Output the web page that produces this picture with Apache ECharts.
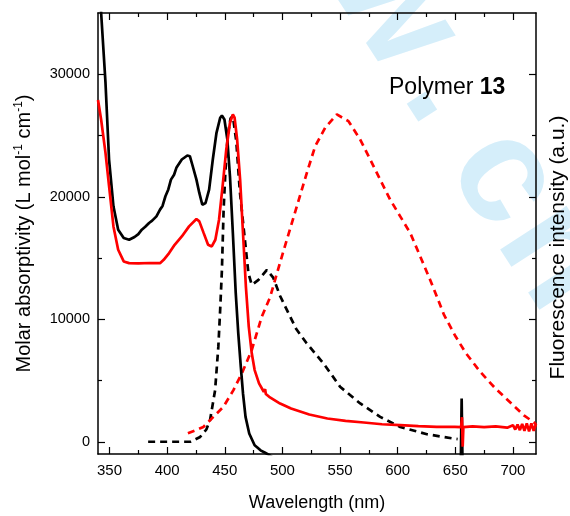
<!DOCTYPE html>
<html>
<head>
<meta charset="utf-8">
<script src="https://cdn.jsdelivr.net/npm/echarts@6/dist/echarts.min.js"></script>
<style>html,body{margin:0;padding:0;background:#fff}#c{width:570px;height:516px}</style>
</head>
<body>
<div id="c"></div>
<script>
// ---------- data ----------
const xMajorTicks = [350, 400, 450, 500, 550, 600, 650, 700];
const xMinorTicks = [375, 425, 475, 525, 575, 625, 675];
const yMajorTicks = [0, 10000, 20000, 30000];
const yMinorTicks = [5000, 15000, 25000];

// absorption, polymer (black, solid)
const wlAbsBlack = [340, 342.7, 346.5, 349.6, 353.4, 357.5, 362.3, 367, 371.7, 375, 378, 381, 384.3, 387, 390.7, 393.8, 396, 398.5, 401, 403.3, 406, 408, 412.7, 417.5, 419.7, 422.2, 425.4, 427.9, 430.5, 433.3, 436.4, 439.6, 442.8, 446, 447.5, 449.7, 452.2, 454.5, 457, 459.5, 461.7, 463.9, 465.8, 468, 471.2, 475.9, 478, 481, 485, 488, 495, 654.8, 655.5, 656.2, 657, 720];
const absBlack = [39100, 35040, 29310, 23040, 19220, 17310, 16630, 16490, 16710, 16950, 17310, 17550, 17860, 18050, 18400, 18950, 19250, 20040, 20600, 21400, 21800, 22360, 23040, 23370, 23310, 22490, 21400, 20310, 19350, 19490, 20580, 23040, 25220, 26450, 26630, 26310, 24680, 21670, 17040, 12130, 8850, 6120, 3940, 2030, 670, -290, -450, -700, -900, -1050, -1500, -1500, 3530, -1500, -1500, -1500];

// absorption, second sample (red, solid)
const wlAbsRed = [340, 342.7, 346.5, 349.6, 353.4, 357.5, 362.3, 367, 375, 385, 393.8, 397, 401.7, 406.5, 412.7, 419, 425.4, 427.9, 431.7, 435.5, 438.7, 441.8, 445, 448.1, 451.3, 454.5, 457, 458.5, 460.7, 463.3, 465.8, 468.3, 470.8, 473.4, 475.9, 479.7, 483.8, 485, 485.6, 488.5, 498, 507.5, 523.3, 539, 554.8, 570.6, 586.4, 602.2, 618, 633.8, 649.6, 655, 655.8, 656.4, 657, 665, 675, 685, 695, 700, 702, 704, 706, 708, 710, 712, 714, 716, 718, 720];
const absRed = [27900, 26310, 23580, 20860, 17580, 15670, 14720, 14580, 14560, 14590, 14580, 14850, 15400, 16080, 16760, 17580, 18180, 17990, 17030, 16080, 15940, 16490, 18130, 20860, 23860, 26040, 26720, 26450, 24680, 21400, 17040, 12670, 9400, 7220, 5850, 4760, 4080, 4300, 3900, 3670, 3120, 2710, 2220, 1900, 1700, 1570, 1430, 1350, 1270, 1210, 1210, 1200, 2000, -400, 1200, 1250, 1200, 1250, 1150, 1350, 1000, 1400, 950, 1450, 900, 1500, 850, 1500, 900, 1450];

// fluorescence, polymer (black, dashed)
const wlFlBlack = [383.5, 400, 420, 428.6, 434, 437.2, 441.6, 444.4, 446, 447.5, 449, 450.5, 452.5, 455, 457, 460, 463, 466.2, 470.5, 473.4, 479.2, 486.5, 492, 498, 506.7, 512, 521, 535.4, 542.9, 550, 567.5, 584.8, 602.2, 625.4, 648.5, 652];
const flBlack = [0, 0, 0, 390, 1000, 1760, 4210, 7760, 10800, 14000, 19000, 22000, 25000, 26400, 26600, 24500, 20500, 17580, 13760, 12800, 13210, 14030, 13400, 11900, 10210, 9200, 8040, 6420, 5440, 4490, 3125, 2030, 1210, 614, 260, 220];

// fluorescence, second sample (red, dashed)
const wlFlRed = [418, 425, 431.4, 440.1, 448.8, 457.5, 464.8, 473.4, 482.1, 489.3, 499.5, 512.5, 521.2, 528.4, 537.1, 547.2, 557.3, 567.5, 576.2, 584.8, 593.5, 602.2, 610.9, 619.6, 628.2, 634, 640, 649.6, 659, 671.7, 684.3, 700, 709.5, 718, 720];
const flRed = [700, 950, 1210, 2030, 2850, 4210, 5580, 7490, 10210, 11800, 15120, 19210, 21950, 24120, 25630, 26720, 26170, 24670, 23040, 21400, 19760, 18400, 17040, 15120, 13210, 11850, 10400, 8700, 7250, 5700, 4400, 3000, 2150, 1600, 1400];

const titleMain = 'Polymer ';
const titleNum = '13';
const xName = 'Wavelength (nm)';
const yNameLeft = '{n|Molar absorptivity (L mol}{s|-1}{n| cm}{s|-1}{n|)}';
const yNameRight = 'Fluorescence intensity (a.u.)';
// watermark letters (text) with their place along the slanted baseline
const wmLetters = ['w', 'w', '.', 'c', 'n'];
const wmAlong = [-215, -100, 0, 104, 198];
const wmUp = [41, 41, 42, 41, 41];

// ---------- chart ----------
const zip = (a, b) => a.map((v, i) => [v, b[i]]);
const FONT = '"Liberation Sans", Arial, sans-serif';
const axisLineStyle = { color: '#000', width: 1.5 };
const tickStyle = { color: '#000', width: 1.2 };

function xAx(pos, major, labels) {
  return {
    type: 'value', min: 340, max: 720, position: pos, gridIndex: 0,
    axisLine: { show: major, onZero: false, lineStyle: axisLineStyle },
    axisTick: { show: true, inside: true, length: major ? 7 : 4, customValues: major ? xMajorTicks : xMinorTicks, lineStyle: tickStyle },
    axisLabel: labels ? { show: true, customValues: xMajorTicks, formatter: v => String(v), color: '#000', fontSize: 15, fontFamily: FONT, margin: 9 } : { show: false },
    splitLine: { show: false },
    name: labels ? xName : '', nameLocation: 'middle', nameGap: 40,
    nameTextStyle: { color: '#000', fontSize: 18, fontFamily: FONT }
  };
}
function yAx(pos, major, labels, name) {
  return {
    type: 'value', min: -1000, max: 35000, position: pos, gridIndex: 0,
    axisLine: { show: major, onZero: false, lineStyle: axisLineStyle },
    axisTick: { show: true, inside: true, length: major ? 7 : 4, customValues: major ? yMajorTicks : yMinorTicks, lineStyle: tickStyle },
    axisLabel: labels ? { show: true, customValues: yMajorTicks, formatter: v => String(v), color: '#000', fontSize: 14.5, fontFamily: FONT, margin: 8 } : { show: false },
    splitLine: { show: false },
    name: name || '', nameLocation: 'middle', nameRotate: 90,
    nameGap: pos === 'left' ? 63 : 12,
    nameTextStyle: {
      color: '#000', fontSize: pos === 'left' ? 20 : 21, fontFamily: FONT,
      padding: pos === 'left' ? 0 : [0, 28, 0, 0],
      rich: {
        n: { fontSize: 20, fontFamily: FONT, color: '#000' },
        s: { fontSize: 12, fontFamily: FONT, color: '#000', padding: [0, 0, 10, 0] }
      }
    }
  };
}

const chart = echarts.init(document.getElementById('c'), null, { renderer: 'canvas' });
const wmAngle = -57 * Math.PI / 180;
chart.setOption({
  animation: false,
  backgroundColor: '#fff',
  grid: { left: 98, right: 34, top: 13, bottom: 62, containLabel: false, outerBoundsMode: 'none' },
  xAxis: [xAx('bottom', true, true), xAx('bottom', false, false), xAx('top', true, false), xAx('top', false, false)],
  yAxis: [
    yAx('left', true, true, yNameLeft),
    yAx('left', false, false),
    yAx('right', true, false, yNameRight),
    yAx('right', false, false)
  ],
  graphic: [
    {
      type: 'group', x: 412, y: 113, rotation: wmAngle, z: -10, silent: true,
      children: wmLetters.map((ch, i) => ({
        type: 'text', x: wmAlong[i], y: -wmUp[i], z: -10, silent: true,
        style: { text: ch, fill: '#d5eefa', font: 'bold 150px "Liberation Sans", Arial, sans-serif', textAlign: 'center', textVerticalAlign: 'middle' }
      }))
    },
    {
      type: 'text', left: 389, top: 76, z: 10,
      style: {
        text: '{a|' + titleMain + '}{b|' + titleNum + '}',
        rich: {
          a: { fontSize: 23, fontFamily: FONT, fill: '#000', color: '#000' },
          b: { fontSize: 23, fontFamily: FONT, fontWeight: 'bold', fill: '#000', color: '#000' }
        }
      }
    }
  ],
  series: [
    { type: 'line', name: 'abs black', data: zip(wlAbsBlack, absBlack), xAxisIndex: 0, yAxisIndex: 0, showSymbol: false, symbol: 'none', clip: true, lineStyle: { color: '#000', width: 2.7 }, z: 3 },
    { type: 'line', name: 'abs red', data: zip(wlAbsRed, absRed), xAxisIndex: 0, yAxisIndex: 0, showSymbol: false, symbol: 'none', clip: true, lineStyle: { color: '#ff0000', width: 2.7 }, z: 4 },
    { type: 'line', name: 'fl black', data: zip(wlFlBlack, flBlack), xAxisIndex: 0, yAxisIndex: 2, showSymbol: false, symbol: 'none', clip: true, lineStyle: { color: '#000', width: 2.7, type: [7, 5] }, z: 2 },
    { type: 'line', name: 'fl red', data: zip(wlFlRed, flRed), xAxisIndex: 0, yAxisIndex: 2, showSymbol: false, symbol: 'none', clip: true, lineStyle: { color: '#ff0000', width: 2.7, type: [7, 5] }, z: 2 }
  ]
});
</script>
</body>
</html>
